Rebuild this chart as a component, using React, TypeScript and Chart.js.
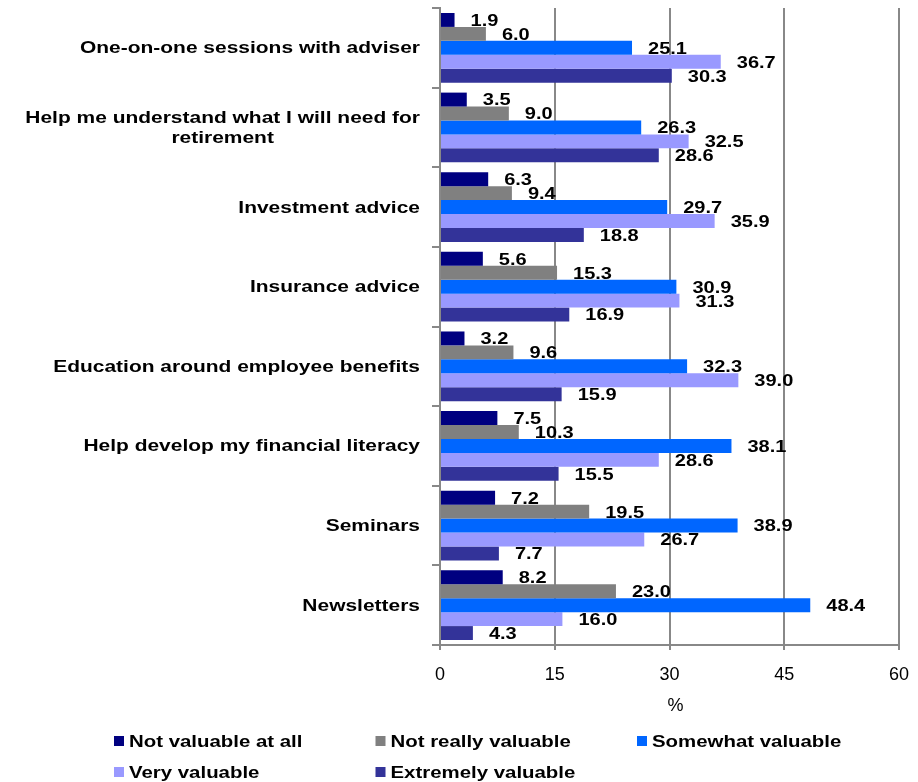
import React, { useEffect, useRef } from "react";
import { Chart, registerables } from "chart.js";

Chart.register(...registerables);

const categories: (string | string[])[] = [
  "One-on-one sessions with adviser",
  ["Help me understand what I will need for", "retirement"],
  "Investment advice",
  "Insurance advice",
  "Education around employee benefits",
  "Help develop my financial literacy",
  "Seminars",
  "Newsletters",
];

const seriesNames = [
  "Not valuable at all",
  "Not really valuable",
  "Somewhat valuable",
  "Very valuable",
  "Extremely valuable",
];

const notValuableAtAll = [1.9, 3.5, 6.3, 5.6, 3.2, 7.5, 7.2, 8.2];
const notReallyValuable = [6.0, 9.0, 9.4, 15.3, 9.6, 10.3, 19.5, 23.0];
const somewhatValuable = [25.1, 26.3, 29.7, 30.9, 32.3, 38.1, 38.9, 48.4];
const veryValuable = [36.7, 32.5, 35.9, 31.3, 39.0, 28.6, 26.7, 16.0];
const extremelyValuable = [30.3, 28.6, 18.8, 16.9, 15.9, 15.5, 7.7, 4.3];

const xTickValues = [0, 15, 30, 45, 60];
const xAxisTitle = "%";

const seriesColors = ["#000080", "#808080", "#0066FF", "#9999FF", "#333399"];

const FONT_FAMILY = '"Liberation Sans", Arial, Helvetica, sans-serif';
const GRID_COLOR = "#888888";

function drawScaledText(
  ctx: CanvasRenderingContext2D,
  text: string,
  x: number,
  y: number,
  sx: number,
  align: CanvasTextAlign
) {
  ctx.save();
  ctx.translate(x, y);
  ctx.scale(sx, 1);
  ctx.textAlign = align;
  ctx.fillText(text, 0, 0);
  ctx.restore();
}

const valueLabelPlugin = {
  id: "valueLabels",
  afterDatasetsDraw(chart: any) {
    const ctx: CanvasRenderingContext2D = chart.ctx;
    ctx.save();
    ctx.font = `bold 16px ${FONT_FAMILY}`;
    ctx.fillStyle = "#000";
    ctx.textBaseline = "middle";
    chart.data.datasets.forEach((ds: any, di: number) => {
      const meta = chart.getDatasetMeta(di);
      meta.data.forEach((el: any, i: number) => {
        const v = ds.data[i] as number;
        drawScaledText(ctx, v.toFixed(1), el.x + 16, el.y + 1.5, 1.25, "left");
      });
    });
    ctx.restore();
  },
};

const categoryLabelPlugin = {
  id: "categoryLabels",
  afterDraw(chart: any) {
    const ctx: CanvasRenderingContext2D = chart.ctx;
    const yScale = chart.scales.y;
    const sx = 1.27;
    const rightEdge = 420;
    const lineH = 20;
    ctx.save();
    ctx.font = `bold 16.5px ${FONT_FAMILY}`;
    ctx.fillStyle = "#000";
    ctx.textBaseline = "middle";
    (chart.data.labels as (string | string[])[]).forEach((lab, i) => {
      const lines = Array.isArray(lab) ? lab : [lab];
      const yc = yScale.getPixelForValue(i) + 1;
      const maxW = Math.max(...lines.map((l) => ctx.measureText(l).width)) * sx;
      const xc = rightEdge - maxW / 2;
      const y0 = yc - ((lines.length - 1) * lineH) / 2;
      lines.forEach((l, k) => {
        drawScaledText(ctx, l, xc, y0 + k * lineH, sx, "center");
      });
    });
    ctx.restore();
  },
};

const axisTitlePlugin = {
  id: "axisTitle",
  afterDraw(chart: any) {
    const ctx: CanvasRenderingContext2D = chart.ctx;
    const area = chart.chartArea;
    ctx.save();
    ctx.font = `18px ${FONT_FAMILY}`;
    ctx.fillStyle = "#000";
    ctx.textBaseline = "middle";
    ctx.textAlign = "center";
    ctx.fillText(xAxisTitle, (area.left + area.right) / 2 + 6, area.bottom + 61);
    ctx.restore();
  },
};

const legendPlugin = {
  id: "customLegend",
  afterDraw(chart: any) {
    const ctx: CanvasRenderingContext2D = chart.ctx;
    const area = chart.chartArea;
    const perRow = 3;
    const colW = 261.5;
    const rowH = 31;
    const x0 = 114;
    const y0 = area.bottom + 96;
    ctx.save();
    ctx.font = `bold 17px ${FONT_FAMILY}`;
    ctx.textBaseline = "middle";
    chart.data.datasets.forEach((ds: any, i: number) => {
      const col = i % perRow;
      const row = Math.floor(i / perRow);
      const bx = x0 + col * colW;
      const by = y0 + row * rowH;
      ctx.fillStyle = ds.backgroundColor;
      ctx.fillRect(bx, by - 5, 10, 10);
      ctx.fillStyle = "#000";
      drawScaledText(ctx, ds.label, bx + 15, by + 1, 1.2, "left");
    });
    ctx.restore();
  },
};

export default function App() {
  const canvasRef = useRef<HTMLCanvasElement | null>(null);

  useEffect(() => {
    document.body.style.margin = "0";
    const canvas = canvasRef.current;
    if (!canvas) return;
    const seriesValues = [
      notValuableAtAll,
      notReallyValuable,
      somewhatValuable,
      veryValuable,
      extremelyValuable,
    ];
    const chart = new Chart(canvas, {
      type: "bar",
      data: {
        labels: categories as any,
        datasets: seriesNames.map((name, i) => ({
          label: name,
          data: seriesValues[i],
          backgroundColor: seriesColors[i],
          borderWidth: 0,
          categoryPercentage: 0.875,
          barPercentage: 1.0,
        })),
      },
      options: {
        indexAxis: "y",
        responsive: false,
        animation: false,
        devicePixelRatio: 1,
        layout: { padding: { top: 8, right: 19, bottom: 87, left: 0 } },
        plugins: {
          legend: { display: false },
          tooltip: { enabled: false },
          title: { display: false },
        },
        scales: {
          x: {
            type: "linear",
            min: 0,
            max: 60,
            afterBuildTicks: (scale: any) => {
              scale.ticks = xTickValues.map((v) => ({ value: v }));
            },
            afterFit: (scale: any) => {
              scale.height = 50;
              scale.paddingLeft = 0;
              scale.paddingRight = 0;
            },
            ticks: {
              font: { family: FONT_FAMILY, size: 18 },
              color: "#000",
              padding: 14,
            },
            grid: {
              color: GRID_COLOR,
              lineWidth: 2,
              tickLength: 5,
              drawOnChartArea: true,
              drawTicks: true,
            },
            border: { display: true, color: GRID_COLOR, width: 2 },
          },
          y: {
            type: "category",
            afterFit: (scale: any) => {
              scale.width = 440;
              scale.paddingTop = 0;
              scale.paddingBottom = 0;
            },
            ticks: { display: false },
            grid: {
              color: GRID_COLOR,
              lineWidth: 2,
              tickLength: 8,
              drawOnChartArea: false,
              drawTicks: true,
              offset: true,
            },
            border: { display: true, color: GRID_COLOR, width: 2 },
          },
        },
      },
      plugins: [valueLabelPlugin, categoryLabelPlugin, axisTitlePlugin, legendPlugin],
    } as any);
    return () => chart.destroy();
  }, []);

  return (
    <div style={{ width: 918, height: 782, background: "#fff" }}>
      <canvas ref={canvasRef} width={918} height={782} style={{ display: "block" }} />
    </div>
  );
}
